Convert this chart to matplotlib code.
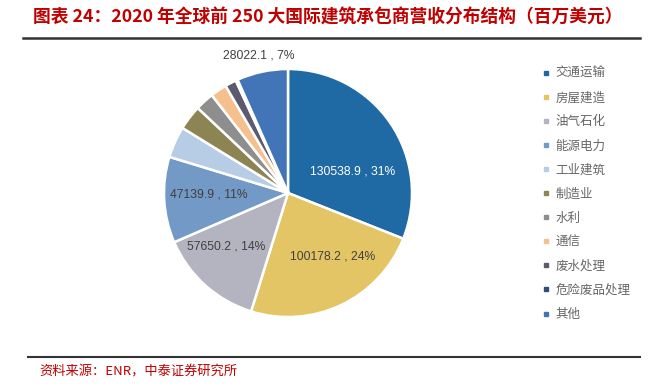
import matplotlib.pyplot as plt
import numpy as np
from matplotlib.lines import Line2D

plt.rcParams['font.family'] = ['Noto Sans CJK SC', 'DejaVu Sans']

# data
categories = ['交通运输', '房屋建造', '油气石化', '能源电力', '工业建筑', '制造业',
              '水利', '通信', '废水处理', '危险废品处理', '其他']
values = [130538.9, 100178.2, 57650.2, 47139.9, 17200.0, 13600.0,
          10300.0, 9000.0, 6200.0, 1100.0, 28022.1]
colors = ['#1f6aa5', '#e3c565', '#b4b4c0', '#7399c6', '#b7cde6', '#8c8452',
          '#8e8e8e', '#f5bf8e', '#5b5b6e', '#2f4d7a', '#4275b8']
show_label = [True, True, True, True, False, False, False, False, False, False, True]
label_colors = ['white', '#404040', '#404040', '#404040', None, None, None, None, None, None, '#404040']
# label placement: distance from centre (in radii) and angle shift from wedge middle (deg)
label_dist = [0.55, 0.63, 0.66, 0.64, 0, 0, 0, 0, 0, 0, 1.13]
label_shift = [-15.5, 9.5, -7.5, -1.8, 0, 0, 0, 0, 0, 0, 0]

fig = plt.figure(figsize=(6.64, 3.89), dpi=100)

# title and rules
fig.text(0.05, 0.955, '图表 24：2020 年全球前 250 大国际建筑承包商营收分布结构（百万美元）',
         color='#c00000', fontsize=12.8, fontweight='bold', va='center', ha='left')
fig.add_artist(Line2D([0.034, 0.964], [0.902, 0.902], color='#333333', lw=1.8))
fig.add_artist(Line2D([0.042, 0.964], [0.082, 0.082], color='#333333', lw=1.5))
fig.text(0.06, 0.043, '资料来源：ENR，中泰证券研究所', color='#c00000', fontsize=9.5,
         va='center', ha='left')

# pie
cx, cy, r = 288, 193, 124
ax = fig.add_axes([(cx - r) / 664, 1 - (cy + r) / 389, 2 * r / 664, 2 * r / 389])
wedges, _ = ax.pie(values, colors=colors, startangle=90, counterclock=False,
                   wedgeprops=dict(edgecolor='white', linewidth=1.8))
ax.set_xlim(-1, 1)
ax.set_ylim(-1, 1)
ax.set_aspect('equal')

total = sum(values)
for i, w in enumerate(wedges):
    if not show_label[i]:
        continue
    ang = np.deg2rad((w.theta1 + w.theta2) / 2 + label_shift[i])
    d = label_dist[i]
    pct = round(values[i] / total * 100)
    ax.text(d * np.cos(ang), d * np.sin(ang), f'{values[i]:.1f} , {pct}%',
            ha='center', va='center', fontsize=8.7, color=label_colors[i],
            family=['Liberation Sans', 'DejaVu Sans'], clip_on=False)

# legend
handles = [Line2D([], [], marker='s', linestyle='none', markersize=3.5,
                  markerfacecolor=c, markeredgecolor=c) for c in colors]
fig.legend(handles, categories, loc='upper left', bbox_to_anchor=(0.8, 0.856),
           frameon=False, fontsize=9, labelspacing=0.885, handlelength=0.6,
           handletextpad=0.45, labelcolor='#666666')

fig.savefig('out.png', dpi=100)
